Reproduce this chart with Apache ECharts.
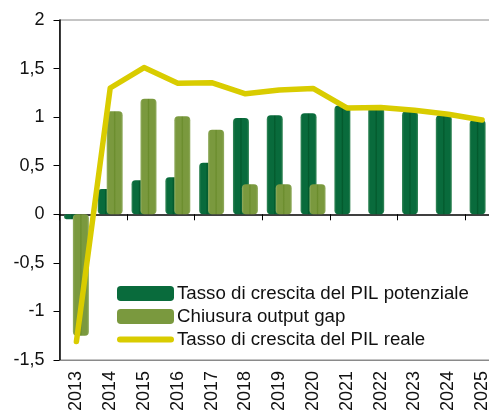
<!DOCTYPE html>
<html>
<head>
<meta charset="utf-8">
<script src="https://cdn.jsdelivr.net/npm/echarts@6/dist/echarts.min.js"></script>
<style>
  html, body { margin: 0; padding: 0; background: #fff; }
  #chart { width: 489px; height: 411px; }
</style>
</head>
<body>
<div id="chart"></div>
<script>
// dati
const anni = ['2013', '2014', '2015', '2016', '2017', '2018', '2019', '2020', '2021', '2022', '2023', '2024', '2025'];
const pilPotenziale = [-0.05, 0.26, 0.35, 0.38, 0.53, 0.99, 1.02, 1.04, 1.12, 1.1, 1.06, 1.02, 0.97];
const outputGap = [-1.25, 1.06, 1.19, 1.01, 0.87, 0.31, 0.31, 0.31, null, null, null, null, null];
const pilReale = [-1.31, 1.3, 1.51, 1.35, 1.355, 1.24, 1.28, 1.295, 1.095, 1.1, 1.07, 1.03, 0.97];

const nomi = ['Tasso di crescita del PIL potenziale', 'Chiusura output gap', 'Tasso di crescita del PIL reale'];

const font = 'Liberation Sans, Arial, sans-serif';

// gradiente orizzontale: bordi più chiari, riga scura al centro
function barreGrad(bordo, corpo, centro) {
  return new echarts.graphic.LinearGradient(0, 0, 1, 0, [
    { offset: 0, color: bordo },
    { offset: 0.12, color: corpo },
    { offset: 0.42, color: corpo },
    { offset: 0.5, color: centro },
    { offset: 0.58, color: corpo },
    { offset: 0.88, color: corpo },
    { offset: 1, color: bordo }
  ]);
}

const chart = echarts.init(document.getElementById('chart'));

chart.setOption({
  animation: false,
  grid: {
    left: 59.5, top: 20, bottom: 51, width: 439.5,
    outerBoundsMode: 'none', containLabel: false,
    show: true, borderColor: '#8a8a8a', borderWidth: 1
  },
  legend: {
    orient: 'vertical',
    left: 117, top: 284, padding: 0,
    itemWidth: 57, itemHeight: 15, itemGap: 4,
    textStyle: { fontFamily: font, fontSize: 18.7, color: '#111', padding: [0, 0, 0, -2] },
    data: [
      { name: nomi[0], icon: 'roundRect', itemStyle: { color: '#096b3c' } },
      { name: nomi[1], icon: 'roundRect', itemStyle: { color: '#7a993e' } },
      { name: nomi[2], icon: 'path://M3,0 L54,0 A3,3 0 0 1 54,6 L3,6 A3,3 0 0 1 3,0 Z', itemStyle: { color: '#d9cc00' } }
    ]
  },
  xAxis: [
    {
      type: 'category',
      data: anni,
      position: 'bottom',
      axisLine: { onZero: false, lineStyle: { color: '#8a8a8a' } },
      axisTick: { show: false },
      axisLabel: { rotate: 90, margin: 11, fontFamily: font, fontSize: 18, color: '#111' }
    },
    {
      type: 'category',
      data: anni,
      position: 'top',
      axisLine: { onZero: true, lineStyle: { color: '#000', width: 1.5 } },
      axisTick: { show: true, inside: true, length: 6, lineStyle: { color: '#000' } },
      axisLabel: { show: false }
    }
  ],
  yAxis: {
    type: 'value',
    min: -1.5, max: 2, interval: 0.5,
    axisLine: { show: true, lineStyle: { color: '#000', width: 1.5 } },
    axisTick: { show: true, length: 6, lineStyle: { color: '#000' } },
    splitLine: { show: false },
    axisLabel: {
      margin: 15, fontFamily: font, fontSize: 18, color: '#111',
      formatter: v => String(v).replace('.', ',')
    }
  },
  series: [
    {
      name: nomi[0],
      type: 'bar',
      data: pilPotenziale,
      barWidth: 16,
      barGap: '-44%',
      itemStyle: { color: barreGrad('#3b8a5c', '#096b3c', '#03592c'), borderRadius: 4 }
    },
    {
      name: nomi[1],
      type: 'bar',
      data: outputGap,
      barWidth: 16,
      itemStyle: { color: barreGrad('#93ad62', '#7a993e', '#6a8c2c'), borderRadius: 4 }
    },
    {
      name: nomi[2],
      type: 'line',
      data: pilReale,
      showSymbol: false,
      symbol: 'none',
      z: 5,
      lineStyle: { color: '#d9cc00', width: 5.5, cap: 'round', join: 'round' },
      itemStyle: { color: '#d9cc00' }
    }
  ]
});

window.addEventListener('resize', () => chart.resize());
</script>
</body>
</html>
